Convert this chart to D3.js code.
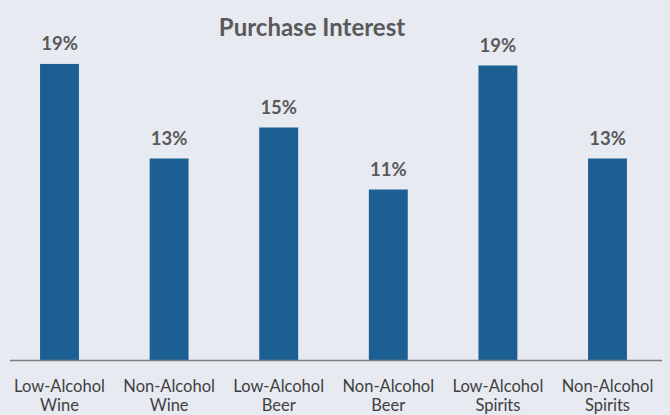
<!DOCTYPE html>
<html>
<head>
<meta charset="utf-8">
<script src="https://cdn.jsdelivr.net/npm/d3@7"></script>
<style>
  html, body { margin: 0; padding: 0; background: #e7eaf1; }
  svg { display: block; }
</style>
</head>
<body>
<div id="chart"></div>
<script>
(function () {
    // data
    const categories = [
        ["Low-Alcohol", "Wine"],
        ["Non-Alcohol", "Wine"],
        ["Low-Alcohol", "Beer"],
        ["Non-Alcohol", "Beer"],
        ["Low-Alcohol", "Spirits"],
        ["Non-Alcohol", "Spirits"]
    ];
    const values = [19.1, 13.0, 15.0, 11.0, 19.0, 13.0];
    const title = "Purchase Interest";

    const width = 670, height = 415;
    const baseY = 360;

    const svg = d3.select("#chart")
        .append("svg")
        .attr("width", width)
        .attr("height", height);

    svg.append("rect")
        .attr("width", width)
        .attr("height", height)
        .attr("fill", "#e7eaf1");

    const x = d3.scaleBand()
        .domain(d3.range(values.length))
        .range([4.7, 662.3])
        .paddingInner(0.645)
        .paddingOuter(0.3225);

    const y = d3.scaleLinear()
        .domain([0, 20])
        .range([baseY, 50]);

    // title
    svg.append("text")
        .attr("x", 312)
        .attr("y", 36)
        .attr("text-anchor", "middle")
        .style("font-family", "Lato, 'Open Sans', sans-serif")
        .style("font-weight", "bold")
        .style("font-size", "24px")
        .style("fill", "#595959")
        .text(title);

    // bars
    svg.selectAll(".bar")
        .data(values)
        .enter().append("rect")
        .attr("class", "bar")
        .attr("x", (d, i) => x(i))
        .attr("width", x.bandwidth())
        .attr("y", d => y(d))
        .attr("height", d => y(0) - y(d))
        .attr("fill", "#1c5f93");

    // value labels
    svg.selectAll(".val")
        .data(values)
        .enter().append("text")
        .attr("class", "val")
        .attr("x", (d, i) => x(i) + x.bandwidth() / 2)
        .attr("y", d => y(d) - 14)
        .attr("text-anchor", "middle")
        .style("font-family", "Lato, 'Open Sans', sans-serif")
        .style("font-weight", "bold")
        .style("font-size", "18.5px")
        .style("fill", "#595959")
        .text(d => Math.round(d) + "%");

    // x axis
    const xAxis = d3.axisBottom(x).tickSize(0).tickFormat("");
    const gx = svg.append("g")
        .attr("transform", `translate(0,${baseY})`)
        .call(xAxis);
    gx.select(".domain")
        .attr("stroke", "#7f7f7f")
        .attr("stroke-width", 1.3)
        .attr("d", "M10,0.5H662");

    gx.selectAll(".tick").each(function (d) {
        const t = d3.select(this).append("text")
            .attr("text-anchor", "middle")
            .attr("fill", "#404040")
            .style("font-family", "Lato, 'Open Sans', sans-serif")
            .style("font-size", "16.5px");
        categories[d].forEach((line, k) => {
            t.append("tspan")
                .attr("x", 0)
                .attr("y", 32 + k * 19)
                .text(line);
        });
    });
})();
</script>
</body>
</html>
